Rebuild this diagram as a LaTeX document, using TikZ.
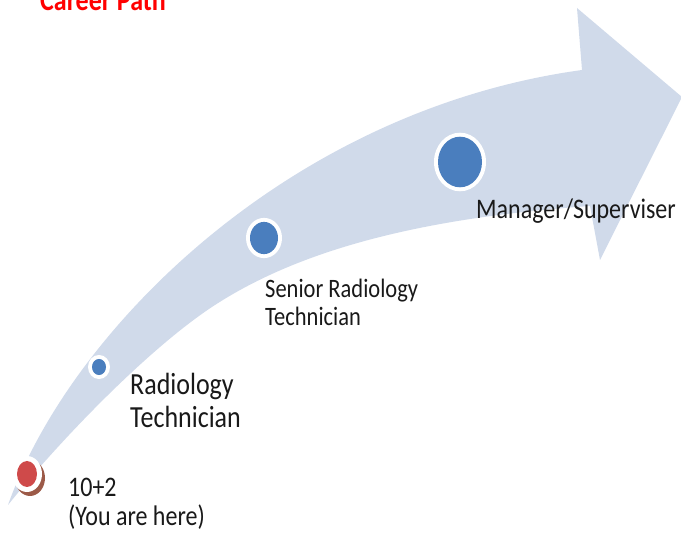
\documentclass[tikz,border=0pt]{standalone}
\usepackage{fontspec}
\setmainfont{Carlito}
\usepackage{graphicx}
\definecolor{bandblue}{HTML}{D0DAEA}
\definecolor{dotblue}{HTML}{4A7EBE}
\definecolor{dotred}{HTML}{CF4A4A}
\definecolor{dotshadow}{HTML}{9C5A48}
\newcommand\tallbox[1]{\scalebox{1}[1.18]{\begin{tabular}[t]{@{}l@{}}#1\end{tabular}}}

\begin{document}
\begin{tikzpicture}[x=1pt,y=-1pt]
        \tikzset{steptext/.style={anchor=base west,inner sep=0pt,text=black!90}}
        \useasboundingbox (0,0) rectangle (681,534);
            \begin{scope}
                % curved arrow band
                \fill[bandblue] (8,505) .. controls (70,330) and (290,110) .. (582,70)
                    -- (577,8) -- (682,97) -- (600,260) -- (590,206)
                    .. controls (420,218) and (300,250) .. (215,305)
                    .. controls (150,347) and (60,440) .. (8,505) -- cycle;

                % start dot
                \fill[dotshadow] (30,478) ellipse [x radius=15, y radius=18];
                \fill[white] (27,474) ellipse [x radius=15, y radius=18];
                \fill[dotred] (27,474) ellipse [x radius=10, y radius=13];

                % step dots
                \foreach \cx/\cy/\r in {99/367/7, 264/238/14, 460/162/22}{
                    \fill[white] (\cx,\cy) ellipse [x radius=\r+4, y radius=1.15*\r+4];
                    \fill[dotblue] (\cx,\cy) ellipse [x radius=\r, y radius=1.15*\r];
                }
             \end{scope}

             \node[steptext,text=red,font=\fontsize{26}{30}\selectfont\bfseries] (title) at (40,11) {\tallbox{Career Path}};
             \node[steptext,font=\fontsize{24}{23}\selectfont] (start) at (68,497) {\tallbox{10+2\\(You are here)}};
             \node[steptext,font=\fontsize{26}{27.2}\selectfont] (tech) at (130,395) {\tallbox{Radiology\\Technician}};
             \node[steptext,font=\fontsize{22.5}{23.7}\selectfont] (senior) at (265,298) {\tallbox{Senior Radiology\\Technician}};
             \node[steptext,font=\fontsize{24}{28}\selectfont] (manager) at (476,219) {\tallbox{Manager/Superviser}};
         \end{tikzpicture}
\end{document}
